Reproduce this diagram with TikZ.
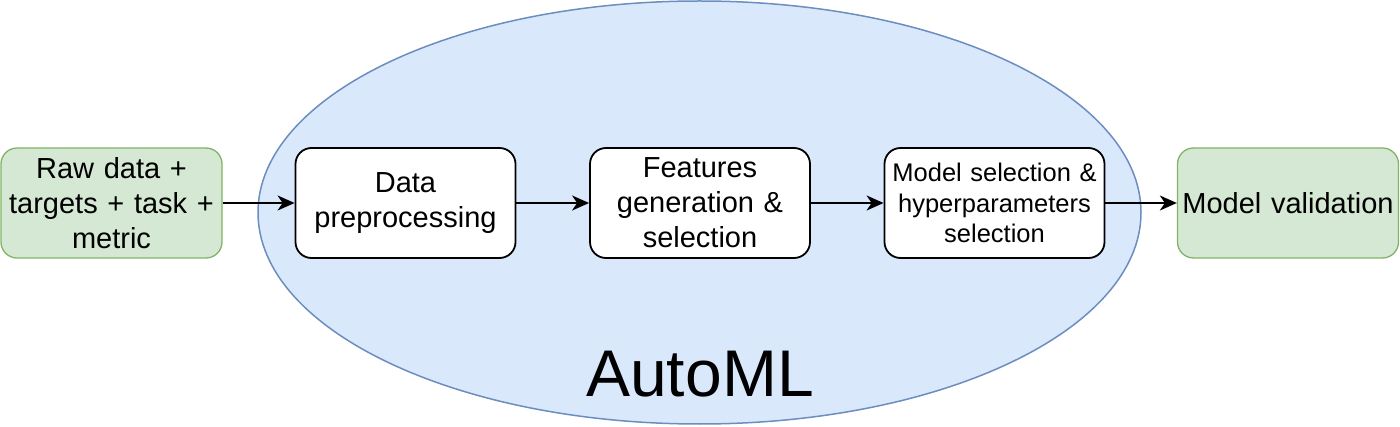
\documentclass[tikz,border=0pt]{standalone}
\usepackage{fontspec}
\setmainfont{Liberation Sans}
\usetikzlibrary{shapes.geometric,arrows.meta}
\definecolor{gfill}{HTML}{D5E8D4}
\definecolor{gdraw}{HTML}{82B366}
\definecolor{bfill}{HTML}{DAE8FC}
\definecolor{bdraw}{HTML}{6C8EBF}
\tikzset{
  greenbox/.style={draw=gdraw, fill=gfill, line width=1.3pt, rounded corners=16pt,
    minimum width=221pt, minimum height=110pt, inner sep=0pt, align=center,
    text width=218pt, font=\fontsize{29}{35}\selectfont},
  stepbox/.style={draw=black, fill=white, line width=1.8pt, rounded corners=16pt,
    minimum width=220pt, minimum height=110pt, inner sep=0pt, align=center,
    text width=216pt, font=\fontsize{29}{35}\selectfont},
  conn/.style={line width=1.5pt, -{Stealth[length=17pt,width=15pt,inset=5pt]}},
}
\begin{document}
\begin{tikzpicture}[x=1pt,y=-1pt]
\useasboundingbox (0,0) rectangle (1400,427);
\node[ellipse, draw=bdraw, fill=bfill, line width=1.5pt, minimum width=883pt,
  minimum height=423pt, inner sep=0pt] (automl) at (699.5,212.5) {};
\node[anchor=base, font=\fontsize{66}{79}\selectfont, inner sep=0pt] (automllabel) at (700,396) {AutoML};
\node[greenbox] (raw) at (111.5,203) {Raw data +\\targets + task +\\metric};
\node[stepbox] (prep) at (405.5,203) {Data\\preprocessing};
\node[stepbox] (feat) at (700,203) {Features\\generation \&\\selection};
\node[stepbox, font=\fontsize{25.5}{30.6}\selectfont] (model) at (994.5,203) {Model selection \&\\hyperparameters\\selection};
\node[greenbox] (valid) at (1288,203) {Model validation};
\draw[conn] (raw) -- (prep);
\draw[conn] (prep) -- (feat);
\draw[conn] (feat) -- (model);
\draw[conn] (model) -- (valid);
\end{tikzpicture}
\end{document}
